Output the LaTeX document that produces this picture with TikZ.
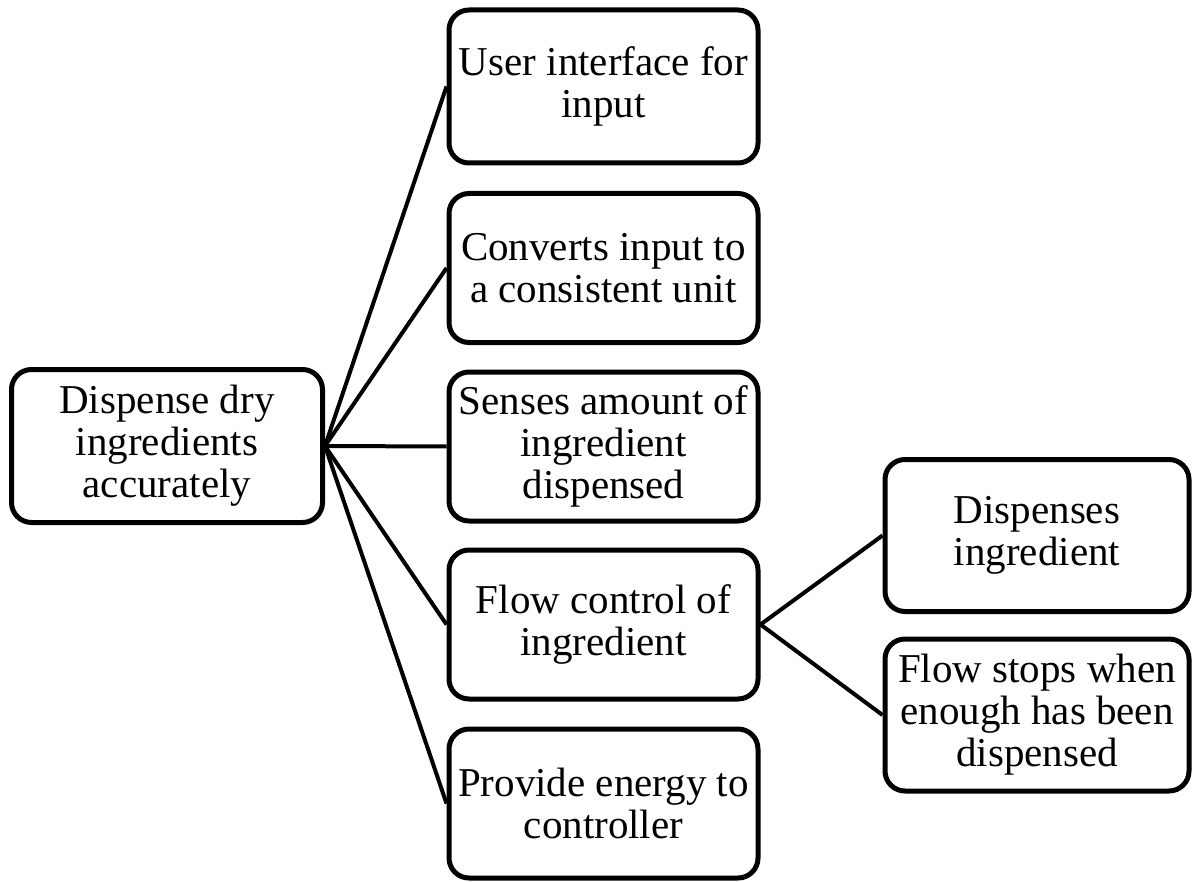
\documentclass[tikz,border=0pt]{standalone}
\usepackage{fontspec}
\setmainfont{Liberation Serif}
\begin{document}
\begin{tikzpicture}[x=1pt,y=-1pt,
  box/.style={draw=black, line width=5pt, rounded corners=20pt, fill=white,
    minimum width=#1, align=center, inner sep=0pt,
    font=\fontsize{41}{42}\selectfont},
  box/.default=309pt,
  link/.style={line width=4pt, black}]
\useasboundingbox (0,0) rectangle (1193,882);
\node[box=311pt, minimum height=153pt] (L) at (167,446) {Dispense dry\\ingredients\\accurately};
\node[box, minimum height=153pt] (M1) at (603.5,86.5) {User interface for\\input};
\node[box, minimum height=149pt] (M2) at (603.5,268) {Converts input to\\a consistent unit};
\node[box, minimum height=149pt] (M3) at (603.5,446.5) {Senses amount of\\ingredient\\dispensed};
\node[box, minimum height=149pt] (M4) at (603.5,624.5) {Flow control of\\ingredient};
\node[box, minimum height=149pt] (M5) at (603.5,803.5) {Provide energy to\\controller};
\node[box=304pt, minimum height=152pt] (R1) at (1037,535.5) {Dispenses\\ingredient};
\node[box=304pt, minimum height=152pt] (R2) at (1037,715) {Flow stops when\\enough has been\\dispensed};
\foreach \m in {M1,M2,M3,M4,M5} \draw[link] (L.east) -- (\m.west);
\draw[link] (M4.east) -- (R1.west);
\draw[link] (M4.east) -- (R2.west);
\end{tikzpicture}
\end{document}
